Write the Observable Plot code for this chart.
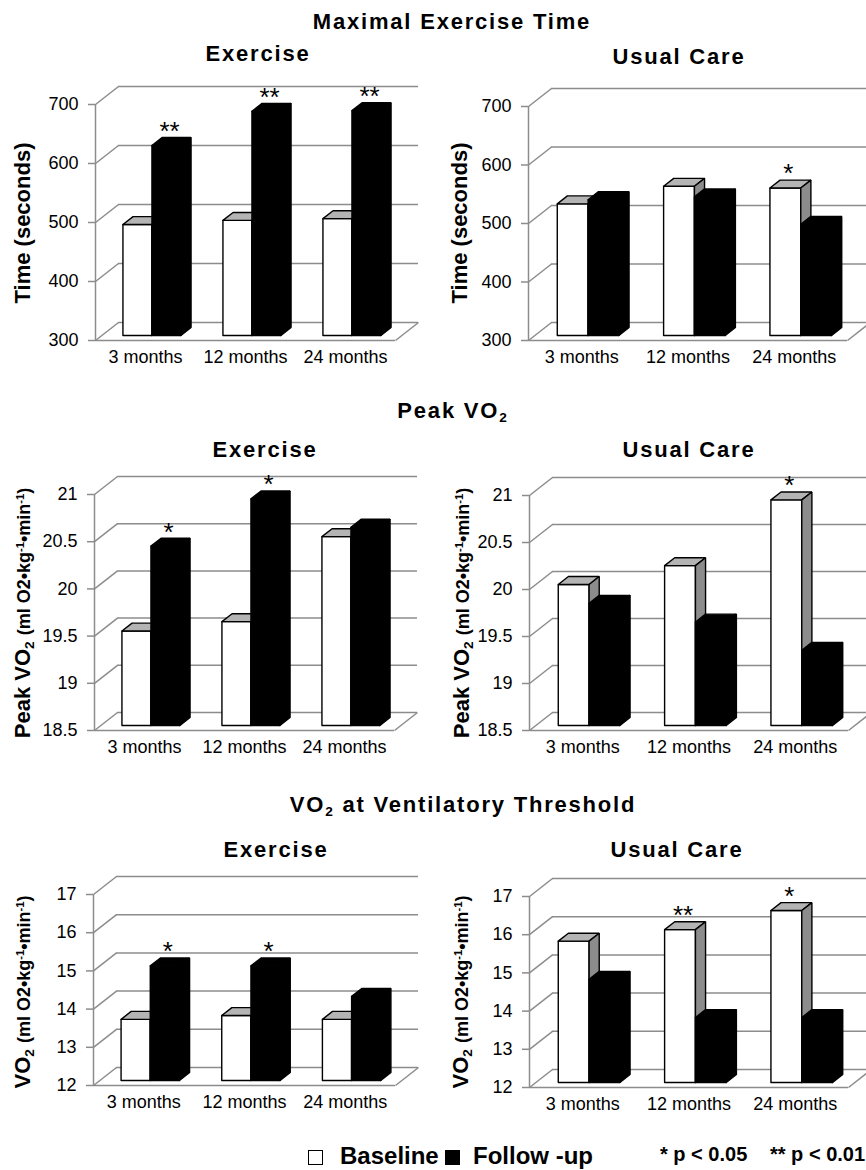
<!DOCTYPE html>
<html>
<head>
<meta charset="utf-8">
<script src="https://cdn.jsdelivr.net/npm/d3@7"></script>
<script src="https://cdn.jsdelivr.net/npm/@observablehq/plot@0.6"></script>
<style>
  body { margin: 0; background: #fff; overflow: hidden; }
  #root { position: relative; width: 866px; height: 1170px; font-family: "Liberation Sans", Arial, Helvetica, sans-serif; color: #000; }
  .title { position: absolute; transform: translate(-50%, -50%); font-weight: bold; font-size: 22px; letter-spacing: 1.8px; line-height: 1; white-space: nowrap; }
  .ylab { position: absolute; transform: translate(-50%, -50%) rotate(-90deg); font-weight: bold; font-size: 22px; line-height: 1; white-space: nowrap; }
  .ylab .sm { font-size: 18px; }
  sub, sup { font-size: 0.62em; line-height: 0; position: relative; vertical-align: baseline; }
  sub { top: 0.3em; }
  sup { top: -0.55em; }
  .leg { position: absolute; font-weight: bold; line-height: 1; white-space: nowrap; }
  .sw { position: absolute; box-sizing: border-box; width: 15px; height: 15px; border: 1.6px solid #000; }
  .panel { position: absolute; overflow: hidden; }
</style>
</head>
<body>
<div id="root"></div>
<script>
// ---------- data ----------
const categories = ["3 months", "12 months", "24 months"];

const timeTicks = [300, 400, 500, 600, 700];
const timeExBaseline = [488, 495, 498];
const timeExFollow = [622, 680, 681];
const timeUcBaseline = [525, 555, 552];
const timeUcFollow = [532, 537, 490];

const vo2Ticks = [18.5, 19, 19.5, 20, 20.5, 21];
const vo2ExBaseline = [19.5, 19.6, 20.5];
const vo2ExFollow = [20.4, 20.9, 20.6];
const vo2UcBaseline = [20.0, 20.2, 20.9];
const vo2UcFollow = [19.8, 19.6, 19.3];

const vtTicks = [12, 13, 14, 15, 16, 17];
const vtExBaseline = [13.6, 13.7, 13.6];
const vtExFollow = [15.0, 15.0, 14.2];
const vtUcBaseline = [15.7, 16.0, 16.5];
const vtUcFollow = [14.7, 13.7, 13.7];

// significance markers: [category index, series (0 = baseline, 1 = follow-up), label]
const timeExSig = [[0, 1, "**"], [1, 1, "**"], [2, 1, "**"]];
const timeUcSig = [[2, 0, "*"]];
const vo2ExSig = [[0, 1, "*"], [1, 1, "*"]];
const vo2UcSig = [[2, 0, "*"]];
const vtExSig = [[0, 1, "*"], [1, 1, "*"]];
const vtUcSig = [[1, 0, "**"], [2, 0, "*"]];

// ---------- drawing ----------
const root = document.getElementById("root");
const GRID = "#8c8c8c";
const TOPF = "#b4b4b4";
const SIDEF = "#8c8c8c";

function panel(cfg) {
  const {left, top, width, height, x0, yt, yb, W, ticks, base, follow, sig} = cfg;
  const DX = 23, DY = 18;                 // depth of the 3D box in px
  const ymin = ticks[0], ymax = ticks[ticks.length - 1];
  const ux = W / 3, uy = (yb - yt) / (ymax - ymin);
  const dxu = DX / ux, dyu = DY / uy;     // depth expressed in scale units
  const f0 = 0.28, f1 = 0.72;             // bar depth slice
  const bw = 0.29;                        // bar width (units)
  const ddx = (f1 - f0) * dxu, ddy = (f1 - f0) * dyu;
  const vals = [base, follow];
  const sw = 1.5;

  const marks = [
    Plot.ruleY(ticks, {y: d => d + dyu, x1: () => -0.5 + dxu, x2: () => 2.5 + dxu, stroke: GRID, strokeWidth: sw}),
    Plot.link(ticks, {x1: () => -0.5, y1: d => d, x2: () => -0.5 + dxu, y2: d => d + dyu, stroke: GRID, strokeWidth: sw}),
    Plot.ruleX([-0.5], {y1: () => ymin, y2: () => ymax, stroke: GRID, strokeWidth: sw}),
    Plot.ruleY([ymin], {y: d => d, x1: () => -0.5, x2: () => 2.5, stroke: GRID, strokeWidth: sw}),
    Plot.link([ymin], {x1: () => 2.5, y1: d => d, x2: () => 2.5 + dxu, y2: d => d + dyu, stroke: GRID, strokeWidth: sw}),
    Plot.ruleY(ticks, {y: d => d, x1: () => -0.5 - 7 / ux, x2: () => -0.5, stroke: GRID, strokeWidth: sw}),
    Plot.text(ticks, {x: () => -0.5, y: d => d, text: d => String(d), textAnchor: "end", dx: -17, fontSize: 18, fill: "#000"}),
    Plot.text(categories, {x: (d, i) => i, y: () => ymin, text: d => d, dy: 17, fontSize: 18, fill: "#000"})
  ];

  for (let i = 0; i < 3; i++) {
    for (let s = 0; s < 2; s++) {
      const v = vals[s][i];
      const xl = i - bw + s * bw + f0 * dxu, xr = xl + bw;
      const y0 = ymin + f0 * dyu, yv = v + f0 * dyu;
      const faces = [
        {pts: [[xl, y0], [xr, y0], [xr, yv], [xl, yv], [xl, y0]], fill: s ? "#000" : "#fff"},
        {pts: [[xl, yv], [xr, yv], [xr + ddx, yv + ddy], [xl + ddx, yv + ddy], [xl, yv]], fill: s ? "#000" : TOPF},
        {pts: [[xr, y0], [xr + ddx, y0 + ddy], [xr + ddx, yv + ddy], [xr, yv], [xr, y0]], fill: s ? "#000" : SIDEF}
      ];
      for (const f of faces) {
        marks.push(Plot.line(f.pts, {x: d => d[0], y: d => d[1], fill: f.fill, stroke: "#000", strokeWidth: 1.4, strokeLinejoin: "miter"}));
      }
    }
  }

  marks.push(Plot.text(sig, {
    x: d => d[0] - bw + d[1] * bw + bw / 2 + ((f0 + f1) / 2) * dxu,
    y: d => vals[d[1]][d[0]] + f1 * dyu,
    text: d => d[2], dy: -6, dx: -2, fontSize: 26, fill: "#000"
  }));

  const svg = Plot.plot({
    width, height,
    x: {domain: [-0.5, 2.5 + dxu], range: [x0 - left, x0 - left + W + DX], axis: null},
    y: {domain: [ymin, ymax + dyu], range: [yb - top, yt - DY - top], axis: null},
    style: {fontFamily: '"Liberation Sans", Arial, Helvetica, sans-serif', fontSize: "18px", background: "transparent", color: "#000"},
    marks
  });
  const div = document.createElement("div");
  div.className = "panel";
  div.style.left = left + "px";
  div.style.top = top + "px";
  div.style.width = width + "px";
  div.style.height = height + "px";
  div.appendChild(svg);
  root.appendChild(div);
}

panel({left: 0,   top: 70,  width: 433, height: 305, x0: 95,  yt: 104, yb: 340, W: 300, ticks: timeTicks, base: timeExBaseline, follow: timeExFollow, sig: timeExSig});
panel({left: 433, top: 70,  width: 433, height: 305, x0: 528, yt: 106, yb: 340, W: 319, ticks: timeTicks, base: timeUcBaseline, follow: timeUcFollow, sig: timeUcSig});
panel({left: 0,   top: 460, width: 433, height: 305, x0: 94,  yt: 494, yb: 730, W: 300, ticks: vo2Ticks, base: vo2ExBaseline, follow: vo2ExFollow, sig: vo2ExSig});
panel({left: 433, top: 460, width: 433, height: 305, x0: 529, yt: 495, yb: 730, W: 319, ticks: vo2Ticks, base: vo2UcBaseline, follow: vo2UcFollow, sig: vo2UcSig});
panel({left: 0,   top: 860, width: 433, height: 260, x0: 93,  yt: 894, yb: 1085, W: 302, ticks: vtTicks, base: vtExBaseline, follow: vtExFollow, sig: vtExSig});
panel({left: 433, top: 860, width: 433, height: 260, x0: 529, yt: 896, yb: 1087, W: 319, ticks: vtTicks, base: vtUcBaseline, follow: vtUcFollow, sig: vtUcSig});

// ---------- titles, axis titles, legend ----------
function addText(cls, html, x, y, extra) {
  const d = document.createElement("div");
  d.className = cls;
  d.innerHTML = html;
  d.style.left = x + "px";
  d.style.top = y + "px";
  if (extra) d.style.cssText += extra;
  root.appendChild(d);
}
addText("title", "Maximal Exercise Time", 452, 22);
addText("title", "Exercise", 258, 54);
addText("title", "Usual Care", 679, 57);
addText("title", "Peak VO<sub>2</sub>", 453, 411);
addText("title", "Exercise", 265, 450);
addText("title", "Usual Care", 689, 450);
addText("title", "VO<sub>2</sub> at Ventilatory Threshold", 463, 805);
addText("title", "Exercise", 276, 850);
addText("title", "Usual Care", 677, 850);

const vo2Unit = '<span class="sm">(ml O2•kg<sup>-1</sup>•min<sup>-1</sup>)</span>';
addText("ylab", "Time (seconds)", 23, 223);
addText("ylab", "Time (seconds)", 460, 223);
addText("ylab", "Peak VO<sub>2</sub> " + vo2Unit, 23, 613);
addText("ylab", "Peak VO<sub>2</sub> " + vo2Unit, 462, 613);
addText("ylab", "VO<sub>2</sub> " + vo2Unit, 23, 992);
addText("ylab", "VO<sub>2</sub> " + vo2Unit, 461, 992);

// legend swatches
const sw1 = document.createElement("div"); sw1.className = "sw";
sw1.style.cssText += "left:308px;top:1150px;background:#fff;"; root.appendChild(sw1);
const sw2 = document.createElement("div"); sw2.className = "sw";
sw2.style.cssText += "left:445px;top:1150px;background:#000;"; root.appendChild(sw2);
addText("leg", "Baseline", 340, 1144, "font-size:24px;");
addText("leg", "Follow -up", 473, 1144, "font-size:24px;");
addText("leg", "* p &lt; 0.05", 660, 1144, "font-size:20px;");
addText("leg", "** p &lt; 0.01", 770, 1144, "font-size:20px;");
</script>
</body>
</html>
